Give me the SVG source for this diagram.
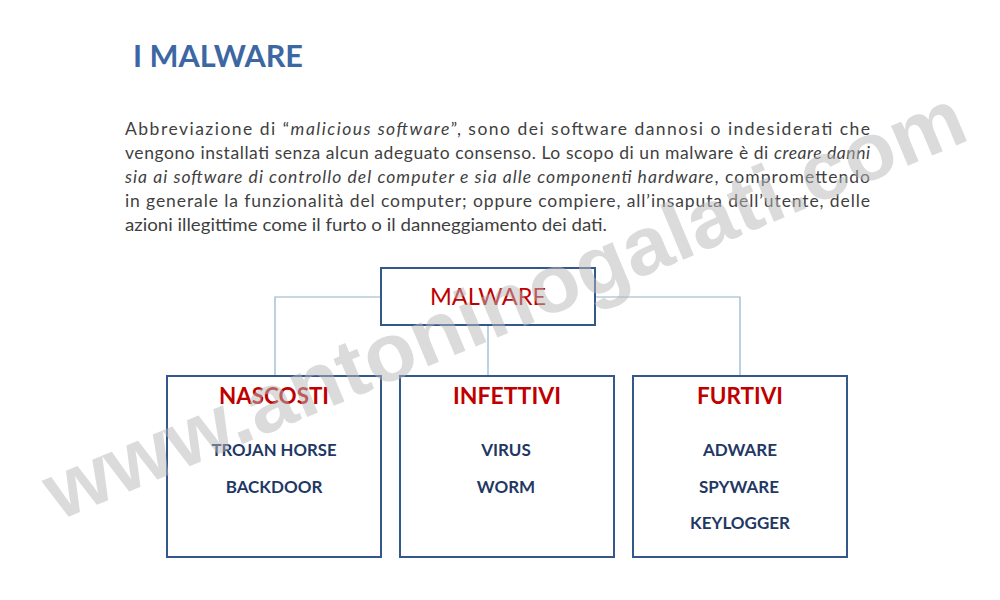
<svg xmlns="http://www.w3.org/2000/svg" width="1000" height="600" viewBox="0 0 1000 600">
<style>
.title{font-family:Lato,"Liberation Sans",sans-serif;font-weight:bold;font-size:31px;fill:#3d67a3}
.para{font-family:Lato,"Liberation Sans",sans-serif;font-size:17.5px;fill:#3f3f3f}
.it{font-style:italic}
.box{fill:#ffffff;stroke:#34578c;stroke-width:2}
.conn{fill:none;stroke:#8fb4cc;stroke-width:1.2}
.root{font-family:Lato,"Liberation Sans",sans-serif;font-size:23px;fill:#c00000;text-anchor:middle}
.head{font-family:Lato,"Liberation Sans",sans-serif;font-weight:bold;font-size:22px;fill:#c00000;text-anchor:middle}
.item{font-family:Lato,"Liberation Sans",sans-serif;font-weight:bold;font-size:17px;fill:#1f3864;text-anchor:middle}
.wm{font-family:"Liberation Sans",Arial,sans-serif;font-weight:bold;font-size:82px;fill:#b8b8b8;fill-opacity:0.5;text-anchor:middle}
</style>
<rect width="1000" height="600" fill="#ffffff"/>
<text class="title" x="133" y="67" textLength="170" lengthAdjust="spacingAndGlyphs">I MALWARE</text>
<g id="paragraph">
<text class="para" x="125" y="135" textLength="745">Abbreviazione di “<tspan class="it">malicious software</tspan>”, sono dei software dannosi o indesiderati che</text>
<text class="para" x="125" y="159" textLength="745">vengono installati senza alcun adeguato consenso. Lo scopo di un malware è di <tspan class="it">creare danni</tspan></text>
<text class="para" x="125" y="183" textLength="745"><tspan class="it">sia ai software di controllo del computer e sia alle componenti hardware</tspan>, compromettendo</text>
<text class="para" x="125" y="207" textLength="745">in generale la funzionalità del computer; oppure compiere, all’insaputa dell’utente, delle</text>
<text class="para" x="125" y="231" textLength="482" lengthAdjust="spacingAndGlyphs">azioni illegittime come il furto o il danneggiamento dei dati.</text>
</g>
<g id="connectors">
<polyline class="conn" points="381,297 275,297 275,376"/>
<polyline class="conn" points="488,325 488,376"/>
<polyline class="conn" points="595,297 740,297 740,376"/>
</g>
<g id="malware">
<rect class="box" x="381" y="268" width="214" height="57"/>
<text class="root" x="488" y="305" textLength="116" lengthAdjust="spacingAndGlyphs">MALWARE</text>
</g>
<g id="nascosti">
<rect class="box" x="167" y="376" width="214" height="181"/>
<text class="head" x="274" y="404" textLength="110" lengthAdjust="spacingAndGlyphs">NASCOSTI</text>
<text class="item" x="274" y="456" textLength="125" lengthAdjust="spacingAndGlyphs">TROJAN HORSE</text>
<text class="item" x="274" y="493">BACKDOOR</text>
</g>
<g id="infettivi">
<rect class="box" x="400" y="376" width="214" height="181"/>
<text class="head" x="507" y="404" textLength="108" lengthAdjust="spacingAndGlyphs">INFETTIVI</text>
<text class="item" x="506" y="456">VIRUS</text>
<text class="item" x="506" y="493">WORM</text>
</g>
<g id="furtivi">
<rect class="box" x="633" y="376" width="214" height="181"/>
<text class="head" x="740" y="404" textLength="86" lengthAdjust="spacingAndGlyphs">FURTIVI</text>
<text class="item" x="740" y="456">ADWARE</text>
<text class="item" x="739" y="493">SPYWARE</text>
<text class="item" x="740" y="529">KEYLOGGER</text>
</g>
<text class="wm" x="0" y="0" textLength="990" lengthAdjust="spacingAndGlyphs" transform="translate(515,330) rotate(-22.7)">www.antoninogalati.com</text>
</svg>
